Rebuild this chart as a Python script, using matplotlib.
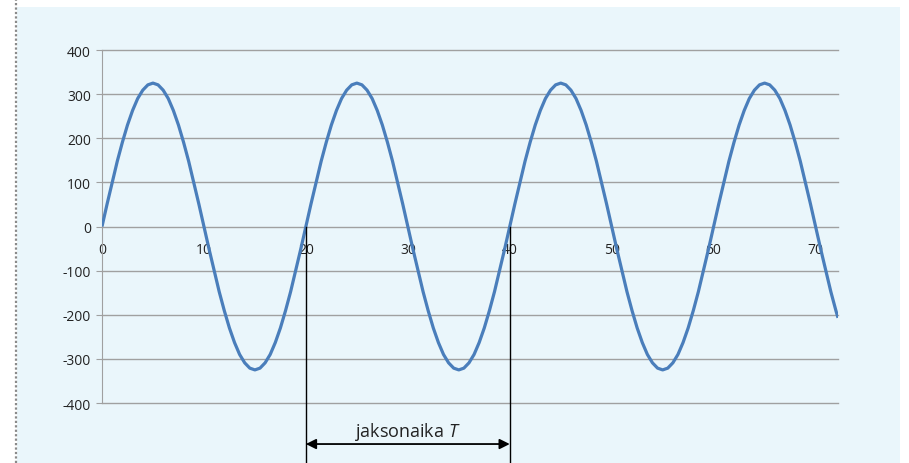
import matplotlib.pyplot as plt
from matplotlib.patches import Rectangle
from matplotlib.lines import Line2D

# aika (ms) ja jännite (V), luettu kuvasta
t = [i * 0.5 for i in range(0, 145)] + [72.2]
u = [0, 51, 100, 148, 191, 230, 263, 290, 309, 321,
     325, 321, 309, 290, 263, 230, 191, 148, 100, 51,
     0, -51, -100, -148, -191, -230, -263, -290, -309, -321,
     -325, -321, -309, -290, -263, -230, -191, -148, -100, -51,
     0, 51, 100, 148, 191, 230, 263, 290, 309, 321,
     325, 321, 309, 290, 263, 230, 191, 148, 100, 51,
     0, -51, -100, -148, -191, -230, -263, -290, -309, -321,
     -325, -321, -309, -290, -263, -230, -191, -148, -100, -51,
     0, 51, 100, 148, 191, 230, 263, 290, 309, 321,
     325, 321, 309, 290, 263, 230, 191, 148, 100, 51,
     0, -51, -100, -148, -191, -230, -263, -290, -309, -321,
     -325, -321, -309, -290, -263, -230, -191, -148, -100, -51,
     0, 51, 100, 148, 191, 230, 263, 290, 309, 321,
     325, 321, 309, 290, 263, 230, 191, 148, 100, 51,
     0, -51, -100, -148, -191, -207]

xticks = [0, 10, 20, 30, 40, 50, 60, 70]
yticks = [-400, -300, -200, -100, 0, 100, 200, 300, 400]
T_start, T_end = 20, 40
T_label = "jaksonaika $\\mathit{T}$"

plt.rcParams['font.family'] = ['Open Sans', 'DejaVu Sans']
plt.rcParams['axes.unicode_minus'] = False
plt.rcParams['mathtext.fontset'] = 'custom'
plt.rcParams['mathtext.it'] = 'Open Sans:italic'
plt.rcParams['mathtext.rm'] = 'Open Sans'

W, H = 909, 464
fig = plt.figure(figsize=(W/100, H/100), dpi=100)
fig.patch.set_facecolor('white')

# vaaleansininen tausta ja pisteviiva vasemmalla
fig.add_artist(Rectangle((17/W, 0), (900-17)/W, (H-8)/H,
                         transform=fig.transFigure, facecolor='#eaf6fb',
                         edgecolor='none', zorder=-5))
fig.add_artist(Line2D([15.5/W, 15.5/W], [0, 1], transform=fig.transFigure,
                      color='#8a8a8a', lw=1.6, ls=(0, (1, 1)), zorder=-5))

ax = fig.add_axes([102/W, 1-404/H, (838-102)/W, (404-51)/H])
ax.set_facecolor('none')
ax.set_zorder(1)

ax.plot(t, u, color='#4a7ebb', lw=2.3, zorder=3, solid_capstyle='butt')

ax.set_xlim(0, 72.2)
ax.set_ylim(-400, 400)
ax.set_yticks(yticks)
ax.set_xticks(xticks)
ax.grid(axis='y', color='#a0a0a0', lw=1)
ax.set_axisbelow(True)
for gl in ax.get_ygridlines():
    gl.set_clip_on(False)

for s in ['top', 'right']:
    ax.spines[s].set_visible(False)
ax.spines['left'].set_color('#a0a0a0')
ax.spines['bottom'].set_position(('data', 0))
ax.spines['bottom'].set_visible(False)

ax.tick_params(axis='y', length=4, color='#a0a0a0', labelsize=10,
               labelcolor='#222222', pad=4)
ax.tick_params(axis='x', length=0, labelsize=10, labelcolor='#222222', pad=11)

# jaksonaika-merkintä
for xv in [T_start, T_end]:
    ax.plot([xv, xv], [0, -545], color='black', lw=1, clip_on=False, zorder=4)
ax.annotate('', xy=(T_start, -493), xytext=(T_end, -493),
            arrowprops=dict(arrowstyle='<|-|>', color='black', lw=1.3,
                            mutation_scale=15, shrinkA=0, shrinkB=0),
            annotation_clip=False)
ax.text((T_start+T_end)/2, -464, T_label, ha='center', va='center',
        fontsize=13, color='#222222', clip_on=False)

fig.savefig('out.png', dpi=100)
